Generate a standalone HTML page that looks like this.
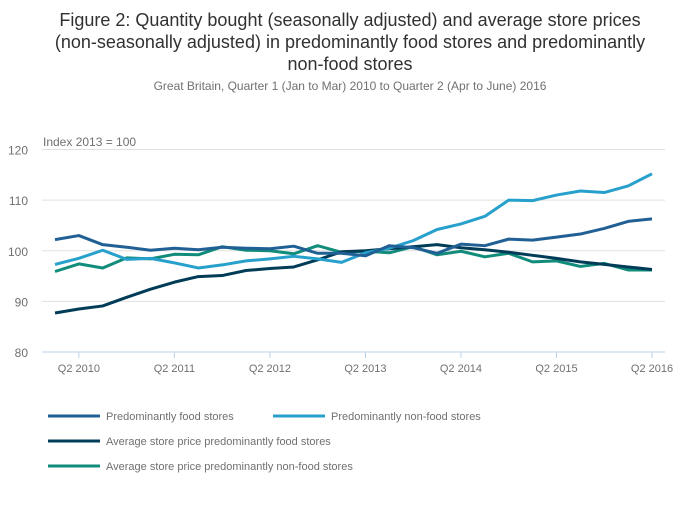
<!DOCTYPE html>
<html><head><meta charset="utf-8"><style>
body{margin:0;background:#fff;font-family:"Liberation Sans",sans-serif;}
svg text{font-family:"Liberation Sans",sans-serif;}
</style></head><body>
<svg id="chart" width="700" height="502">
<text x="350" y="26" text-anchor="middle" font-size="18" fill="#323132">Figure 2: Quantity bought (seasonally adjusted) and average store prices</text>
<text x="350" y="48" text-anchor="middle" font-size="18" fill="#323132">(non-seasonally adjusted) in predominantly food stores and predominantly</text>
<text x="350" y="70" text-anchor="middle" font-size="18" fill="#323132">non-food stores</text>
<text x="350" y="90" text-anchor="middle" font-size="12" fill="#707071">Great Britain, Quarter 1 (Jan to Mar) 2010 to Quarter 2 (Apr to June) 2016</text>
<text x="43" y="146" font-size="12" fill="#707071">Index 2013 = 100</text>
<g id="grid"></g><g id="series"></g><g id="legend"></g>
</svg>
<script>
const quarters=26;
const xTicks=["Q2 2010","Q2 2011","Q2 2012","Q2 2013","Q2 2014","Q2 2015","Q2 2016"];
const xTickIdx=[1,5,9,13,17,21,25];
const yTicks=[80,90,100,110,120];
const seriesNames=["Predominantly food stores","Predominantly non-food stores","Average store price predominantly food stores","Average store price predominantly non-food stores"];
const food=[102.2,103.0,101.2,100.7,100.1,100.5,100.2,100.7,100.5,100.4,100.9,99.5,99.5,99.0,101.0,100.6,99.5,101.3,101.0,102.3,102.1,102.7,103.3,104.4,105.8,106.3];
const nonFood=[97.3,98.5,100.1,98.3,98.5,97.6,96.6,97.2,98.0,98.4,98.9,98.4,97.7,99.6,100.5,102.0,104.2,105.3,106.8,110.0,109.9,111.0,111.8,111.5,112.8,115.2];
const priceFood=[87.7,88.5,89.1,90.8,92.4,93.8,94.9,95.1,96.1,96.5,96.8,98.2,99.8,100.0,100.4,100.8,101.2,100.6,100.2,99.7,99.1,98.5,97.8,97.3,96.8,96.3];
const priceNonFood=[95.9,97.4,96.6,98.6,98.4,99.3,99.2,100.8,100.1,100.0,99.4,101.0,99.7,99.9,99.6,100.8,99.2,99.9,98.8,99.5,97.8,98.0,96.9,97.5,96.2,96.2];
const colors=["#206095","#27a0cc","#003c57","#118c7b"];
const NS="http://www.w3.org/2000/svg";
const x=i=>55+i*(652-55)/(quarters-1);
const y=v=>352-(v-80)*(352-149.5)/40;
function mk(tag,attrs,parent){const e=document.createElementNS(NS,tag);for(const k in attrs)e.setAttribute(k,attrs[k]);parent.appendChild(e);return e;}
const grid=document.getElementById('grid');
yTicks.forEach(t=>{
  const l=mk('line',{x1:42,x2:665,y1:y(t),y2:y(t),stroke:t===80?'#bcd2e8':'#e0e0e0','stroke-width':1},grid);
  
  
  const tx=mk('text',{x:28,y:y(t)+5,'text-anchor':'end','font-size':12,fill:'#707071'},grid);
  tx.textContent=t;
  
  
});
xTicks.forEach((lab,k)=>{
  const xi=x(xTickIdx[k]);
  const l=mk('line',{x1:xi,x2:xi,y1:352,y2:358,stroke:'#bcd2e8'},grid);
  
  
  const tx=mk('text',{x:xi,y:372,'text-anchor':'middle','font-size':11,fill:'#707071'},grid);
  tx.textContent=lab;
  
  
});
const sg=document.getElementById('series');
const data=[food,nonFood,priceFood,priceNonFood];
const ids=['food-stores-line','non-food-stores-line','price-food-line','price-non-food-line'];
[3,2,1,0].forEach(s=>{
  const p=mk('polyline',{points:data[s].map((v,i)=>x(i)+','+y(v)).join(' '),fill:'none',stroke:colors[s],'stroke-width':3,'stroke-linejoin':'round'},sg);
  
  
});
const lg=document.getElementById('legend');
const lpos=[[48,416],[273,416],[48,441],[48,466]];
seriesNames.forEach((n,s)=>{
  const [lx,ly]=lpos[s];
  const g=mk('g',{},lg);
  
  
  mk('line',{x1:lx,x2:lx+52,y1:ly,y2:ly,stroke:colors[s],'stroke-width':3},g);
  const t=mk('text',{x:lx+58,y:ly+4,'font-size':11,fill:'#707071'},g);
  t.textContent=n;
});
</script>
</body></html>
